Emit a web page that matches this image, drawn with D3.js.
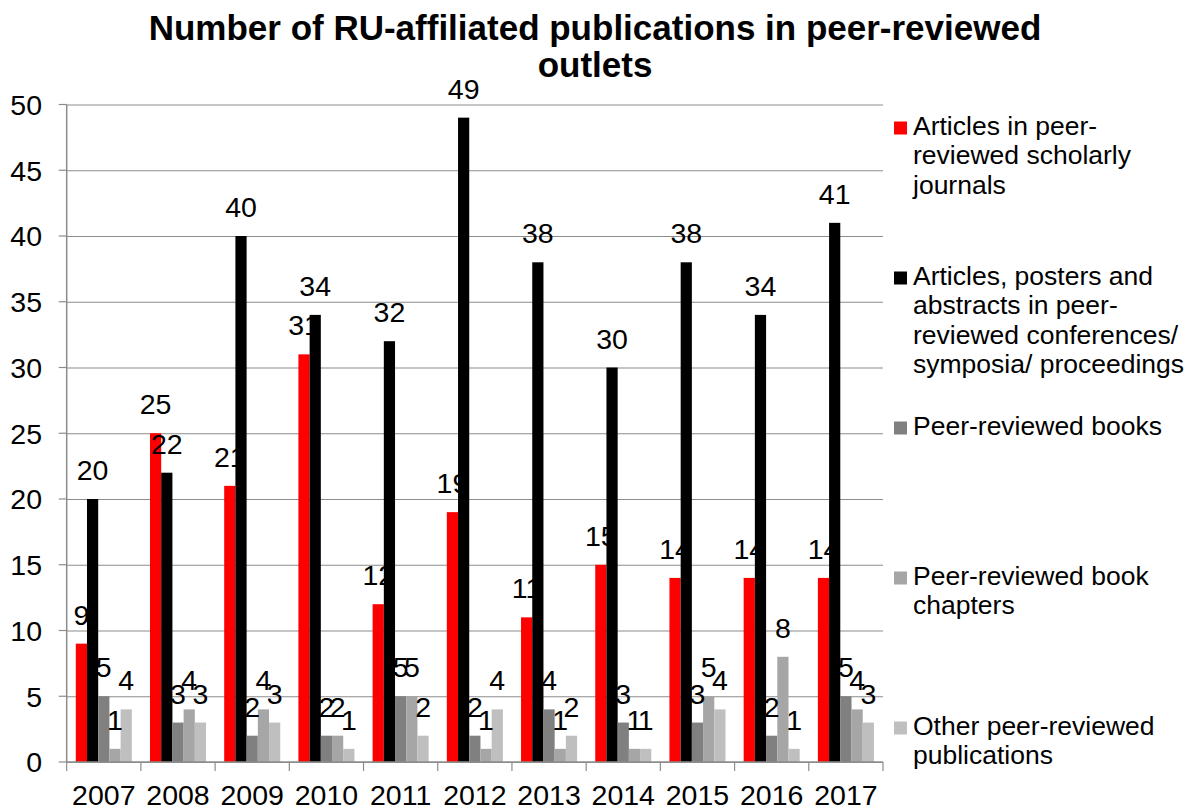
<!DOCTYPE html>
<html>
<head>
<meta charset="utf-8">
<style>
  body {
    margin: 0;
    background: #fff;
  }

  svg {
    display: block;
    font-family: 'Liberation Sans', Arial, sans-serif;
  }

  .grid line {
    stroke: #8c8c8c;
    stroke-width: 1.2;
  }
</style>
<script src="https://d3js.org/d3.v7.min.js"></script>
</head>
<body>
<div id="holder"></div>

<script>
  // Data
  const years = ['2007', '2008', '2009', '2010', '2011', '2012', '2013', '2014', '2015', '2016', '2017'];
  const seriesNames = [
    'Articles in peer-reviewed scholarly journals',
    'Articles, posters and abstracts in peer-reviewed conferences/ symposia/ proceedings',
    'Peer-reviewed books',
    'Peer-reviewed book chapters',
    'Other peer-reviewed publications',
  ];
  // legend text, broken into lines like the original
  const legendLines = [
    ['Articles in peer-', 'reviewed scholarly', 'journals'],
    ['Articles, posters and', 'abstracts in peer-', 'reviewed conferences/', 'symposia/ proceedings'],
    ['Peer-reviewed books'],
    ['Peer-reviewed book', 'chapters'],
    ['Other peer-reviewed', 'publications'],
  ];
  const journals = [9, 25, 21, 31, 12, 19, 11, 15, 14, 14, 14];
  const conferences = [20, 22, 40, 34, 32, 49, 38, 30, 38, 34, 41];
  const books = [5, 3, 2, 2, 5, 2, 4, 3, 3, 2, 5];
  const chapters = [1, 4, 4, 2, 5, 1, 1, 1, 5, 8, 4];
  const other = [4, 3, 3, 1, 2, 4, 2, 1, 4, 1, 3];
  const yTicks = [0, 5, 10, 15, 20, 25, 30, 35, 40, 45, 50];

  const colors = ['#ff0000', '#000000', '#808080', '#a6a6a6', '#bfbfbf'];
  const allSeries = [journals, conferences, books, chapters, other];

  // Variables
  const w = 1195;
  const h = 812;
  const plotLeft = 66.7;
  const plotRight = 883;
  const plotTop = 104.5;
  const plotBottom = 762;
  const gridColor = '#8c8c8c';
  const labelSize = '28.5px';

  const svg = d3
    .select('#holder')
    .append('svg')
    .attr('width', w)
    .attr('height', h);

  // Scales
  const x0 = d3.scaleBand().domain(years).range([plotLeft, plotRight]);
  const x1 = d3
    .scaleBand()
    .domain(d3.range(seriesNames.length))
    .range([0, x0.bandwidth()])
    .paddingInner(0)
    .paddingOuter(0.81);
  const yScale = d3.scaleLinear().domain([0, 50]).range([plotBottom, plotTop]);

  // Gridlines
  const yAxis = d3
    .axisLeft(yScale)
    .tickValues(yTicks)
    .tickSize(-(plotRight - plotLeft))
    .tickFormat('');
  svg
    .append('g')
    .attr('class', 'grid')
    .attr('transform', 'translate(' + plotLeft + ',0)')
    .call(yAxis)
    .call((g) => g.select('.domain').remove());

  // little ticks to the left of the axis
  svg
    .append('g')
    .selectAll('line')
    .data(yTicks)
    .enter()
    .append('line')
    .attr('x1', plotLeft - 8)
    .attr('x2', plotLeft)
    .attr('y1', (d) => yScale(d))
    .attr('y2', (d) => yScale(d))
    .style('stroke', gridColor)
    .style('stroke-width', 1.2);

  svg
    .append('g')
    .selectAll('text')
    .data(yTicks)
    .enter()
    .append('text')
    .attr('x', 42)
    .attr('y', (d) => yScale(d))
    .attr('dy', '0.36em')
    .attr('text-anchor', 'end')
    .style('font-size', labelSize)
    .text((d) => d);

  svg
    .append('line')
    .attr('x1', plotLeft)
    .attr('x2', plotLeft)
    .attr('y1', plotTop)
    .attr('y2', plotBottom)
    .style('stroke', gridColor)
    .style('stroke-width', 1.5);

  // Bars
  const groups = svg
    .selectAll('.year')
    .data(years)
    .enter()
    .append('g')
    .attr('class', 'year')
    .attr('transform', (d) => 'translate(' + x0(d) + ',0)');

  groups
    .selectAll('rect')
    .data((d, i) => allSeries.map((s, k) => ({ k: k, v: s[i] })))
    .enter()
    .append('rect')
    .attr('x', (d) => x1(d.k))
    .attr('y', (d) => yScale(d.v))
    .attr('width', x1.bandwidth())
    .attr('height', (d) => plotBottom - yScale(d.v))
    .style('fill', (d) => colors[d.k]);

  groups
    .selectAll('text')
    .data((d, i) => allSeries.map((s, k) => ({ k: k, v: s[i] })))
    .enter()
    .append('text')
    .attr('x', (d) => x1(d.k) + x1.bandwidth() / 2)
    .attr('y', (d) => yScale(d.v) - 19)
    .attr('text-anchor', 'middle')
    .style('font-size', labelSize)
    .text((d) => d.v);

  // X axis
  svg
    .append('line')
    .attr('x1', plotLeft)
    .attr('x2', plotRight)
    .attr('y1', plotBottom)
    .attr('y2', plotBottom)
    .style('stroke', gridColor)
    .style('stroke-width', 1.5);

  svg
    .append('g')
    .selectAll('line')
    .data(years.concat(['end']))
    .enter()
    .append('line')
    .attr('x1', (d, i) => (i < years.length ? x0(d) : plotRight))
    .attr('x2', (d, i) => (i < years.length ? x0(d) : plotRight))
    .attr('y1', plotBottom)
    .attr('y2', plotBottom + 9)
    .style('stroke', gridColor)
    .style('stroke-width', 1.2);

  svg
    .append('g')
    .selectAll('text')
    .data(years)
    .enter()
    .append('text')
    .attr('x', (d) => x0(d) + x0.bandwidth() / 2)
    .attr('y', 805)
    .attr('text-anchor', 'middle')
    .style('font-size', labelSize)
    .text((d) => d);

  // Title
  const title = svg
    .append('text')
    .attr('text-anchor', 'middle')
    .style('font-size', '35px')
    .style('font-weight', 'bold');
  title.append('tspan').attr('x', 595).attr('y', 40).text('Number of RU-affiliated publications in peer-reviewed');
  title.append('tspan').attr('x', 595).attr('y', 77).text('outlets');

  // Legend
  const legend = svg
    .append('g')
    .selectAll('g')
    .data(seriesNames)
    .enter()
    .append('g')
    .attr('transform', (d, i) => 'translate(894,' + (134.5 + 150 * i) + ')');

  legend
    .append('rect')
    .attr('x', 0)
    .attr('y', -13)
    .attr('width', 13)
    .attr('height', 13)
    .style('fill', (d, i) => colors[i]);

  legend
    .append('text')
    .style('font-size', '26.5px')
    .selectAll('tspan')
    .data((d, i) => legendLines[i])
    .enter()
    .append('tspan')
    .attr('x', 19)
    .attr('y', (d, j) => j * 29.5)
    .text((d) => d);
</script>
</body>
</html>
